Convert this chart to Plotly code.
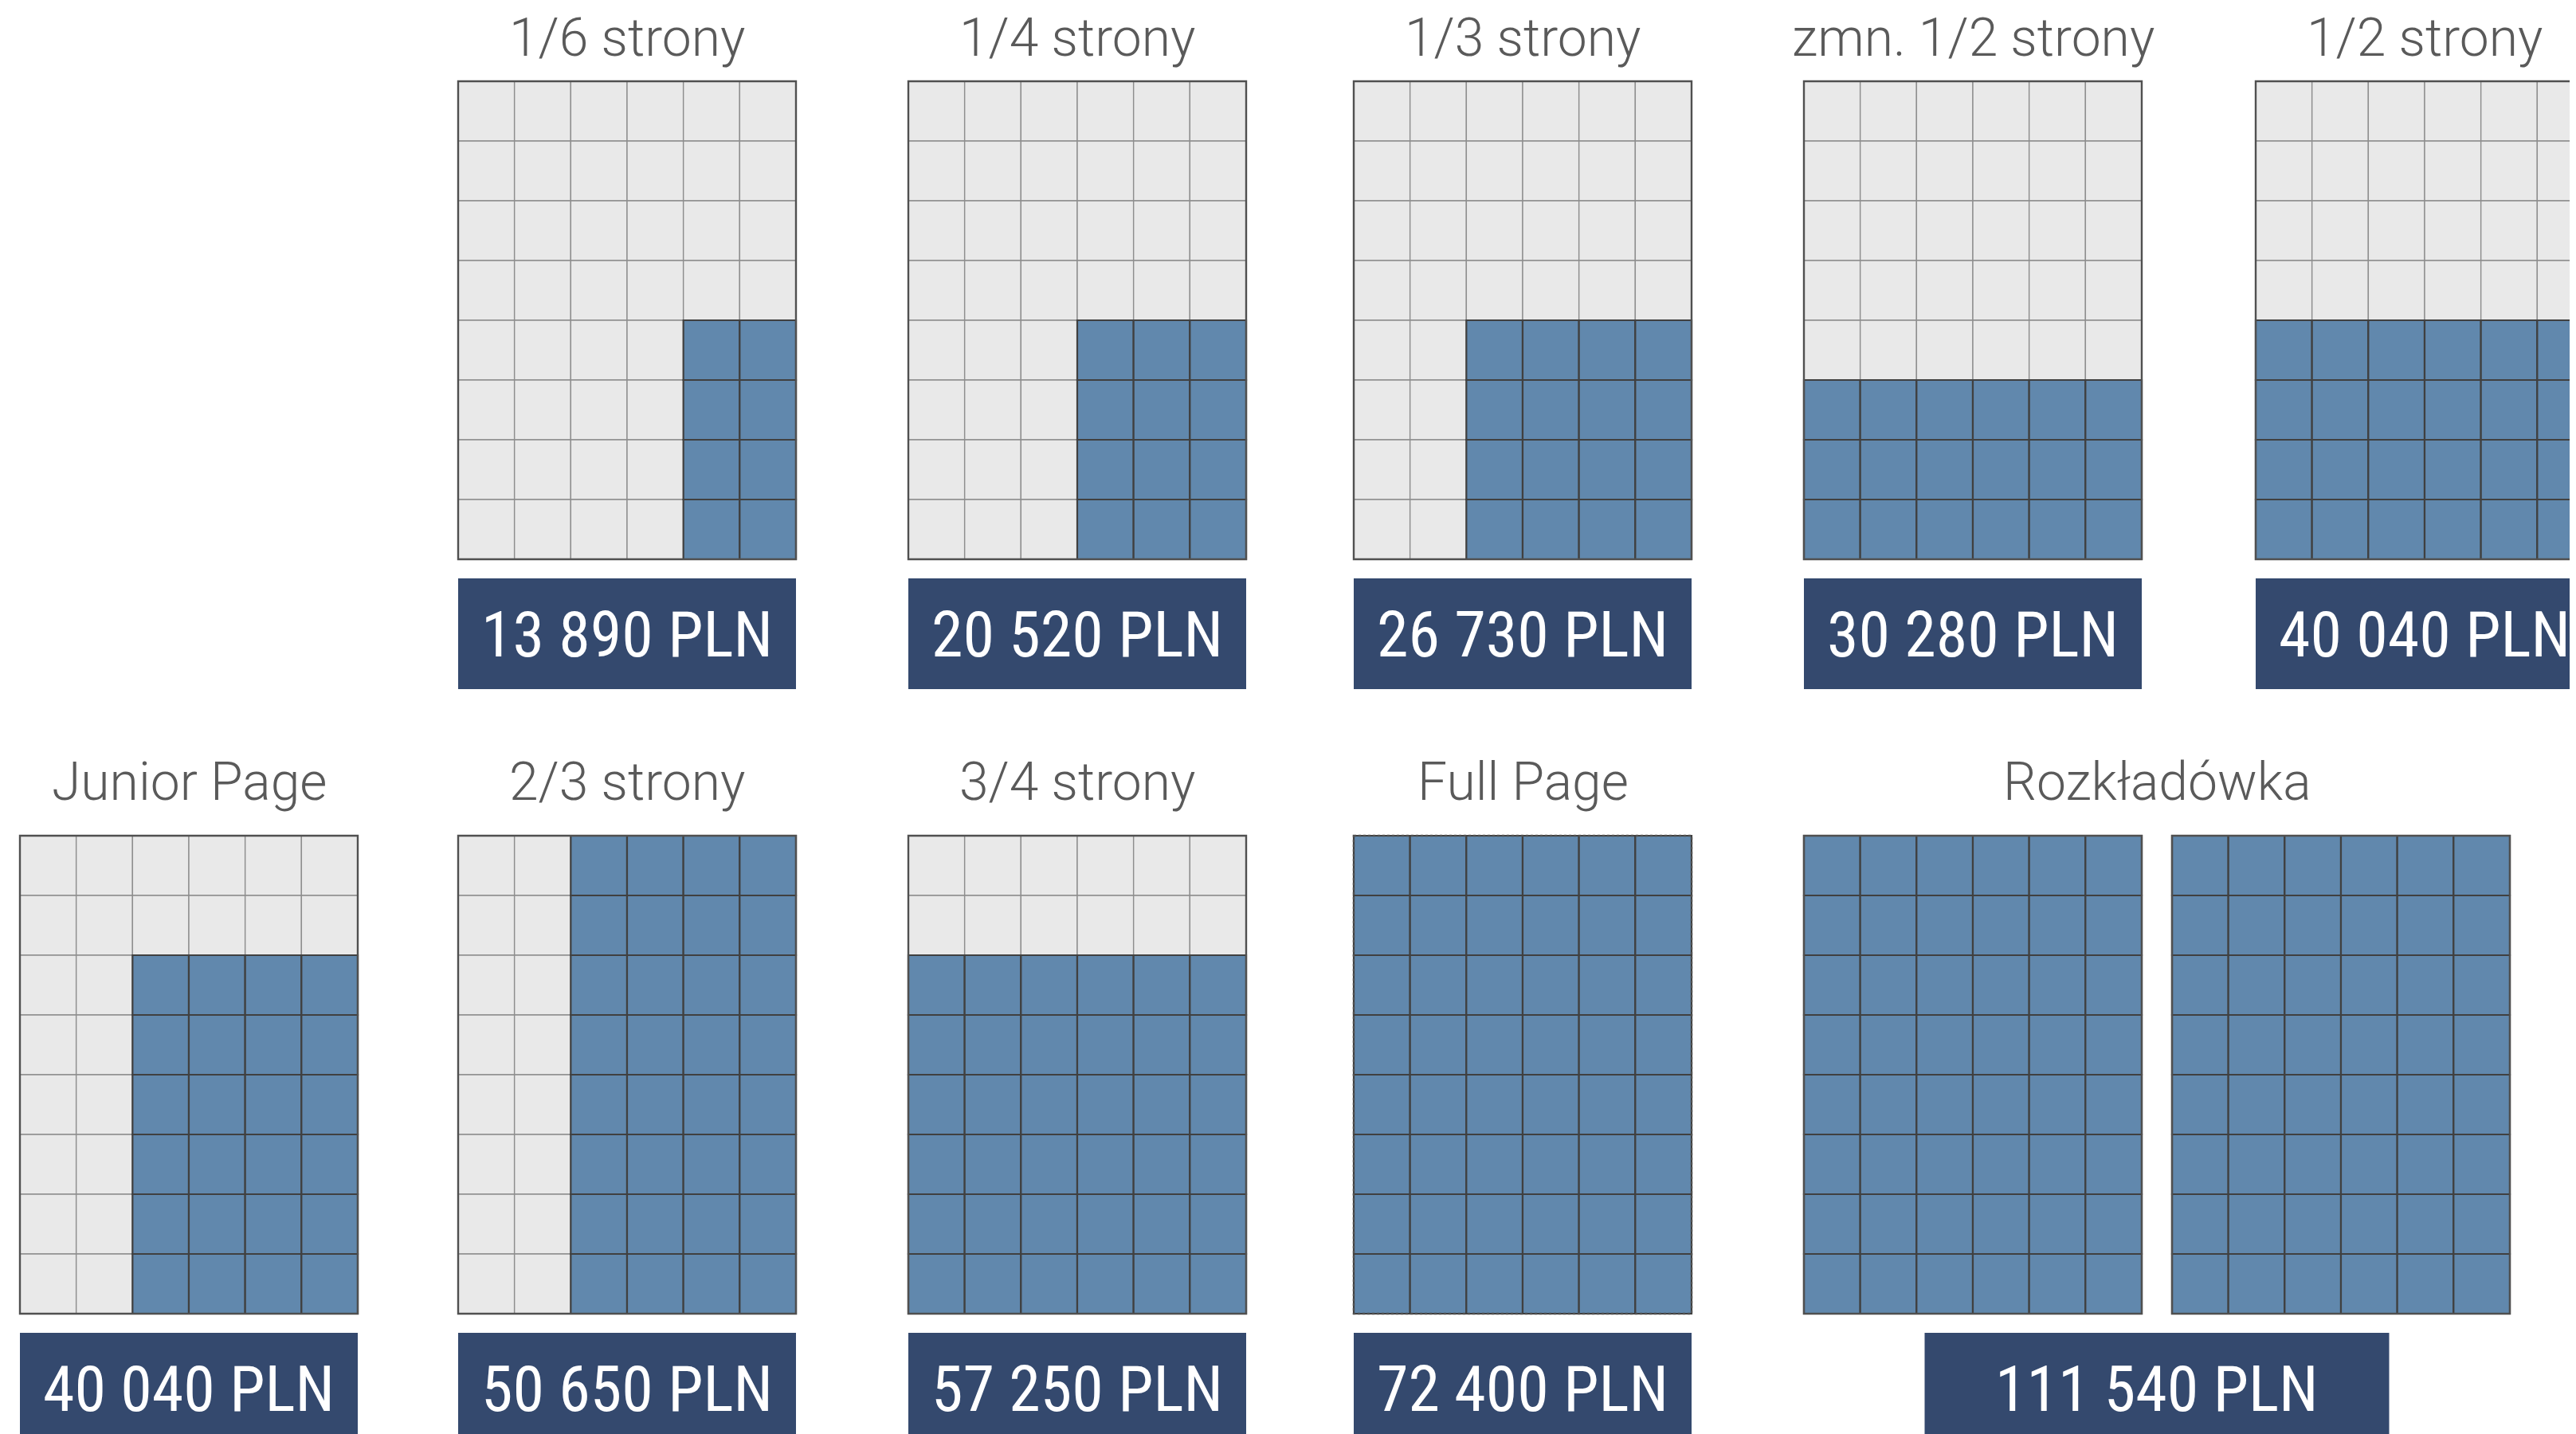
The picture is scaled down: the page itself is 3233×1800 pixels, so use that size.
import plotly.graph_objects as go

# Ad formats, their price and how much of the 6x8 page grid they take
pages = ["1/6 strony", "1/4 strony", "1/3 strony", "zmn. 1/2 strony", "1/2 strony",
         "Junior Page", "2/3 strony", "3/4 strony", "Full Page", "Rozkładówka"]
prices = [13890, 20520, 26730, 30280, 40040, 40040, 50650, 57250, 72400, 111540]
blue_cols = [2, 3, 4, 6, 6, 4, 4, 6, 6, 6]   # filled columns, counted from the right
blue_rows = [4, 4, 4, 3, 4, 6, 8, 6, 8, 8]   # filled rows, counted from the bottom
sheets = [1, 1, 1, 1, 1, 1, 1, 1, 1, 2]
grid_cols = 6
grid_rows = 8

# layout (pixels)
W, H = 3233, 1800
PAGE_OFFSET = 8   # default body margin of the html page
slot_x = [25, 575, 1140, 1699, 2264, 2831]
page_slot = [1, 2, 3, 4, 5, 0, 1, 2, 3, 4]
page_row = [0, 0, 0, 0, 0, 1, 1, 1, 1, 1]
grid_top = [102, 1049]
title_y = [47, 981]
box_top = [726, 1673]
GW, GH = 424, 600
BOX_H = 139
SPREAD_GAP = 38
SPREAD_BOX_W = 583

GREY = "#e9e9e9"
BLUE = "#6188ad"
NAVY = "#34496e"
THIN = "#8e8e8e"
DARK = "#404040"
TEXT = "#5a5a5a"


def fmt(v):
    return "{:,}".format(v).replace(",", " ") + " PLN"


fig = go.Figure()
shapes = []
annotations = []

for i, name in enumerate(pages):
    r = page_row[i]
    left = slot_x[page_slot[i]]
    top = grid_top[r]
    cw = GW / grid_cols
    ch = GH / grid_rows

    for s in range(sheets[i]):
        x0 = left + s * (GW + SPREAD_GAP)
        grey_cells, blue_cells = [], []
        for row in range(grid_rows):
            for col in range(grid_cols):
                filled = col >= grid_cols - blue_cols[i] and row >= grid_rows - blue_rows[i]
                cell = dict(type="rect", xref="x", yref="y",
                            x0=x0 + col * cw, x1=x0 + (col + 1) * cw,
                            y0=top + row * ch, y1=top + (row + 1) * ch,
                            fillcolor=BLUE if filled else GREY,
                            line=dict(color=DARK if filled else THIN,
                                      width=2.2 if filled else 1.4),
                            layer="above")
                (blue_cells if filled else grey_cells).append(cell)
        shapes += grey_cells + blue_cells
        # outer frame
        shapes.append(dict(type="rect", xref="x", yref="y",
                           x0=x0, x1=x0 + GW, y0=top, y1=top + GH,
                           line=dict(color="#505050", width=2.4,
                                     dash="dot" if name == "Full Page" else "solid"),
                           fillcolor="rgba(0,0,0,0)", layer="above"))

    span = GW * sheets[i] + SPREAD_GAP * (sheets[i] - 1)
    cx = left + span / 2
    bw = GW if sheets[i] == 1 else SPREAD_BOX_W

    shapes.append(dict(type="rect", xref="x", yref="y",
                       x0=cx - bw / 2, x1=cx + bw / 2,
                       y0=box_top[r], y1=box_top[r] + BOX_H,
                       fillcolor=NAVY, line=dict(width=0), layer="above"))

    annotations.append(dict(x=cx, y=title_y[r], xref="x", yref="y", text=name,
                            showarrow=False, xanchor="center", yanchor="middle",
                            font=dict(family="Roboto, Open Sans, sans-serif",
                                      size=66, color=TEXT, weight=300)))
    annotations.append(dict(x=cx, y=box_top[r] + BOX_H / 2 + 1, xref="x", yref="y",
                            text=fmt(prices[i]), showarrow=False,
                            xanchor="center", yanchor="middle",
                            font=dict(family="Liberation Sans Narrow, Roboto Condensed, Roboto, sans-serif",
                                      size=80, color="white")))

fig.update_layout(
    width=W, height=H,
    margin=dict(l=0, r=0, t=0, b=0),
    paper_bgcolor="white", plot_bgcolor="white",
    shapes=shapes, annotations=annotations,
    showlegend=False,
    xaxis=dict(range=[PAGE_OFFSET, W + PAGE_OFFSET], visible=False, fixedrange=True),
    yaxis=dict(range=[H + PAGE_OFFSET, PAGE_OFFSET], visible=False, fixedrange=True),
)

fig.write_html("out.html")
